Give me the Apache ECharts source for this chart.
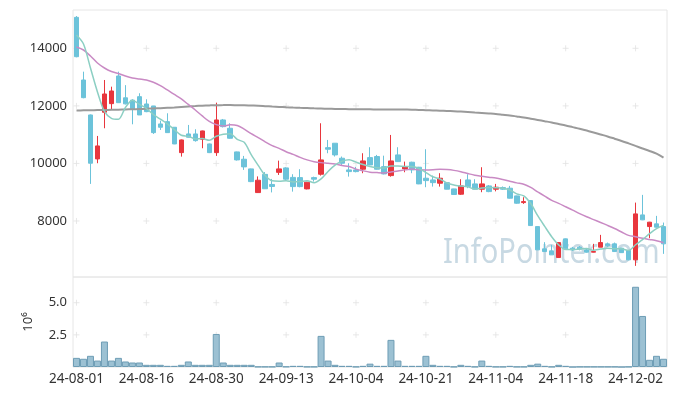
<!DOCTYPE html>
<html>
<head>
<meta charset="utf-8">
<script src="https://cdn.jsdelivr.net/npm/echarts@6/dist/echarts.min.js"></script>
<style>
html,body{margin:0;padding:0;background:#fff;}
#chart{width:677px;height:396px;}
</style>
</head>
<body>
<div id="chart"></div>
<script>
const dates = [
'24-08-01','24-08-02','24-08-05','24-08-06','24-08-07','24-08-08','24-08-09','24-08-12','24-08-13','24-08-14',
'24-08-16','24-08-19','24-08-20','24-08-21','24-08-22','24-08-23','24-08-26','24-08-27','24-08-28','24-08-29',
'24-08-30','24-09-02','24-09-03','24-09-04','24-09-05','24-09-06','24-09-09','24-09-10','24-09-11','24-09-12',
'24-09-13','24-09-19','24-09-20','24-09-23','24-09-24','24-09-25','24-09-26','24-09-27','24-09-30','24-10-02',
'24-10-04','24-10-07','24-10-08','24-10-10','24-10-11','24-10-14','24-10-15','24-10-16','24-10-17','24-10-18',
'24-10-21','24-10-22','24-10-23','24-10-24','24-10-25','24-10-28','24-10-29','24-10-30','24-10-31','24-11-01',
'24-11-04','24-11-05','24-11-06','24-11-07','24-11-08','24-11-11','24-11-12','24-11-13','24-11-14','24-11-15',
'24-11-18','24-11-19','24-11-20','24-11-21','24-11-22','24-11-25','24-11-26','24-11-27','24-11-28','24-11-29',
'24-12-02','24-12-03','24-12-04','24-12-05','24-12-06'];

const opens = [15076,12899,11684,10156,11778,12077,13038,12280,12200,12320,
12066,11997,11372,11452,11257,10375,11025,11025,10840,10677,
10375,11511,11222,10400,10146,9810,8987,9620,9270,9690,
9845,9515,9507,9115,9507,9625,10549,10702,10181,9775,
9775,9799,10202,10240,9889,9577,10296,9810,10042,9868,
9486,9427,9313,9333,9115,8931,9427,9289,9105,9219,
9105,9160,9139,8872,8640,8709,7806,7032,6962,6730,
7379,7056,7090,6997,6917,7090,7206,7206,7056,6973,
6650,8212,7806,7900,7806];
const closes = [13708,12285,10007,10608,12413,12517,12111,12070,11880,11684,
11799,11070,11257,11070,10677,10816,10910,10792,11129,10375,
11511,11278,10875,10122,9880,9368,9417,9120,9200,9810,
9452,9195,9195,9348,9452,10122,10493,10296,10007,9716,
9716,10087,9948,9799,9636,10087,10063,9889,9775,9289,
9403,9333,9486,9105,8920,9219,9195,9105,9289,9021,
9174,9105,8792,8618,8674,7841,6997,6938,6823,7250,
7032,6997,7021,6917,6938,7250,7136,6938,6900,6650,
8247,8039,7959,7785,7206];
const lows = [13688,12264,9289,10007,11222,11882,12111,12050,11360,11684,
11780,11025,11163,11060,10670,10237,10900,10757,10528,10360,
10261,11250,10860,10100,9775,9350,8975,9110,8993,9600,
9400,9020,9170,9100,9370,9577,10354,10240,9948,9542,
9690,9660,9940,9790,9620,9540,10050,9694,9660,9280,
9174,9195,9195,9100,8910,8907,9139,9100,9000,9000,
9030,9080,8780,8600,8594,7830,6990,6930,6820,6720,
7020,6960,6980,6900,6910,7090,7100,6930,6890,6640,
6441,8030,7403,7770,6858];
const highs = [15121,13188,11700,10955,12899,12667,13188,12720,12230,12438,
12229,12000,11486,11743,11257,10830,11337,11188,11140,10690,
12111,11545,11396,10410,10261,9820,9549,9700,9462,10097,
9870,9625,9799,9360,9540,11396,10816,10702,10240,10007,
9880,10354,10563,10296,10270,10990,10563,10063,10060,9880,
10493,9577,9660,9340,9120,9451,9625,9451,9868,9250,
9289,9200,9219,8880,8826,8720,7810,7264,7171,7260,
7390,7100,7130,7030,7206,7518,7250,7250,7070,6990,
8639,8907,7970,8178,7945];

const ma5 = [14462,14149,13316,12483,11806,11566,11531,11944,12198,12052,
11909,11701,11538,11376,11175,10978,10946,10853,10865,10804,
10943,11017,11034,10832,10733,10305,9932,9581,9397,9383,
9400,9355,9370,9400,9328,9462,9722,9942,10074,10127,
10046,9964,9895,9853,9837,9911,9907,9895,9890,9821,
9684,9538,9457,9323,9249,9213,9185,9109,9146,9166,
9157,9139,9076,8942,8873,8606,8184,7814,7455,7170,
7008,7008,7025,7043,6981,7025,7052,7036,7032,6975,
7174,7355,7559,7736,7847];
const ma20 = [14045,13941,13733,13490,13316,13195,13125,13038,12969,12934,
12899,12819,12701,12552,12396,12240,12049,11858,11650,11459,
11349,11299,11342,11318,11191,11034,10899,10752,10618,10524,
10406,10313,10210,10124,10062,10028,10007,9982,9926,9893,
9803,9744,9697,9681,9669,9705,9737,9776,9804,9778,
9776,9783,9797,9785,9759,9713,9648,9589,9553,9518,
9491,9442,9384,9325,9277,9165,9012,8864,8716,8614,
8496,8379,8256,8146,8047,7949,7846,7738,7618,7500,
7453,7400,7358,7317,7243];
const ma60 = [11840,11844,11847,11853,11858,11863,11868,11875,11882,11891,
11899,11910,11920,11932,11945,11962,11979,11993,12007,12016,
12024,12026,12028,12024,12021,12012,12004,11990,11976,11964,
11952,11941,11931,11922,11913,11906,11899,11894,11889,11885,
11882,11880,11879,11877,11875,11873,11872,11870,11868,11856,
11851,11843,11834,11824,11813,11801,11788,11771,11754,11737,
11719,11693,11667,11632,11597,11554,11511,11467,11424,11372,
11320,11262,11205,11141,11077,11007,10938,10860,10781,10695,
10608,10521,10434,10339,10200];

// volume in millions (axis shows 10^6)
const volumes = [0.71,0.64,0.87,0.50,1.98,0.50,0.71,0.43,0.35,0.35,
0.17,0.17,0.17,0.09,0.09,0.17,0.43,0.17,0.17,0.17,
2.57,0.35,0.17,0.17,0.17,0.17,0.02,0.02,0.02,0.35,
0.03,0.09,0.09,0.02,0.02,2.42,0.50,0.17,0.09,0.09,
0.02,0.09,0.26,0.09,0.09,2.11,0.50,0.09,0.09,0.09,
0.87,0.17,0.09,0.09,0.02,0.17,0.09,0.02,0.50,0.09,
0.02,0.02,0.09,0.02,0.02,0.17,0.26,0.09,0.02,0.17,
0.09,0.00,0.02,0.02,0.02,0.02,0.02,0.02,0.00,0.02,
6.24,3.97,0.56,0.87,0.64];

const priceTicks = [8000,10000,12000,14000];
const volumeTicks = [2.5,5.0];
const labelIndexStep = 10;

const UP = '#e8363d', DOWN = '#6cc3da';
const FONT = 'Noto Sans';
const TXT = '#333';

const candleData = opens.map((o,i)=>[o, closes[i], lows[i], highs[i]]);

const crossIdx = dates.map((d,i)=>i).filter(i=>i % labelIndexStep === 0);
const crossMain = [], crossVol = [];
crossIdx.forEach(i=>{
  priceTicks.forEach(v=>crossMain.push([i, v]));
  volumeTicks.forEach(v=>crossVol.push([i, v]));
});
const crossStyle = {
  type:'scatter', symbol:'path://M0,3L6,3M3,0L3,6', symbolSize:6, silent:true, z:1,
  itemStyle:{color:'rgba(0,0,0,0)', borderColor:'#e2e2e2', borderWidth:1}
};

const chart = echarts.init(document.getElementById('chart'), null, {renderer:'canvas'});
chart.setOption({
  animation:false,
  backgroundColor:'#fff',
  textStyle:{fontFamily:FONT},
  graphic:[{
    type:'text', left:443, top:236, z:0, silent:true, scaleX:0.83,
    style:{text:'InfoPointer.com', font:'35px "Noto Sans"', fill:'#c8d9e3'}
  }],
  grid:[
    {left:73, right:10, top:10, height:267, show:true, borderColor:'#e6e6e6', borderWidth:1},
    {left:73, right:10, top:277, height:90, show:true, borderColor:'#e6e6e6', borderWidth:1}
  ],
  xAxis:[
    {type:'category', data:dates, gridIndex:0, boundaryGap:true,
     axisLine:{show:false}, axisTick:{show:false}, axisLabel:{show:false}, splitLine:{show:false}},
    {type:'category', data:dates, gridIndex:1, boundaryGap:true,
     axisLine:{show:false}, axisTick:{show:false}, splitLine:{show:false},
     axisLabel:{interval:labelIndexStep-1, color:TXT, fontSize:13.5, margin:5, fontFamily:FONT}}
  ],
  yAxis:[
    {type:'value', gridIndex:0, min:6054, max:15331, scale:true,
     axisLine:{show:false}, axisTick:{show:false}, splitLine:{show:false},
     axisLabel:{customValues:priceTicks, color:TXT, fontSize:13, margin:6, fontFamily:FONT,
       formatter:v=>String(v)}},
    {type:'value', gridIndex:1, min:0, max:7,
     axisLine:{show:false}, axisTick:{show:false}, splitLine:{show:false},
     axisLabel:{customValues:volumeTicks, color:TXT, fontSize:13, margin:6, fontFamily:FONT,
       formatter:v=>v.toFixed(1)},
     name:'10\u2076', nameLocation:'middle', nameRotate:90, nameGap:38,
     nameTextStyle:{color:TXT, fontSize:13, fontFamily:FONT}}
  ],
  series:[
    Object.assign({}, crossStyle, {xAxisIndex:0, yAxisIndex:0, data:crossMain}),
    Object.assign({}, crossStyle, {xAxisIndex:1, yAxisIndex:1, data:crossVol}),
    {type:'candlestick', xAxisIndex:0, yAxisIndex:0, data:candleData, barWidth:5, z:3,
     itemStyle:{color:UP, color0:DOWN, borderColor:UP, borderColor0:DOWN, borderWidth:1}},
    {type:'line', xAxisIndex:0, yAxisIndex:0, data:ma60, showSymbol:false, smooth:0.3, z:4,
     lineStyle:{color:'#9a9a9a', width:2}},
    {type:'line', xAxisIndex:0, yAxisIndex:0, data:ma20, showSymbol:false, smooth:0.3, z:4,
     lineStyle:{color:'#c98ac4', width:1.5}},
    {type:'line', xAxisIndex:0, yAxisIndex:0, data:ma5, showSymbol:false, smooth:0.3, z:4,
     lineStyle:{color:'#8ccfc3', width:1.5}},
    {type:'bar', xAxisIndex:1, yAxisIndex:1, data:volumes, barCategoryGap:'0%',
     itemStyle:{color:'#9cc1d3', borderColor:'#6e9db5', borderWidth:1}}
  ]
});
</script>
</body>
</html>
